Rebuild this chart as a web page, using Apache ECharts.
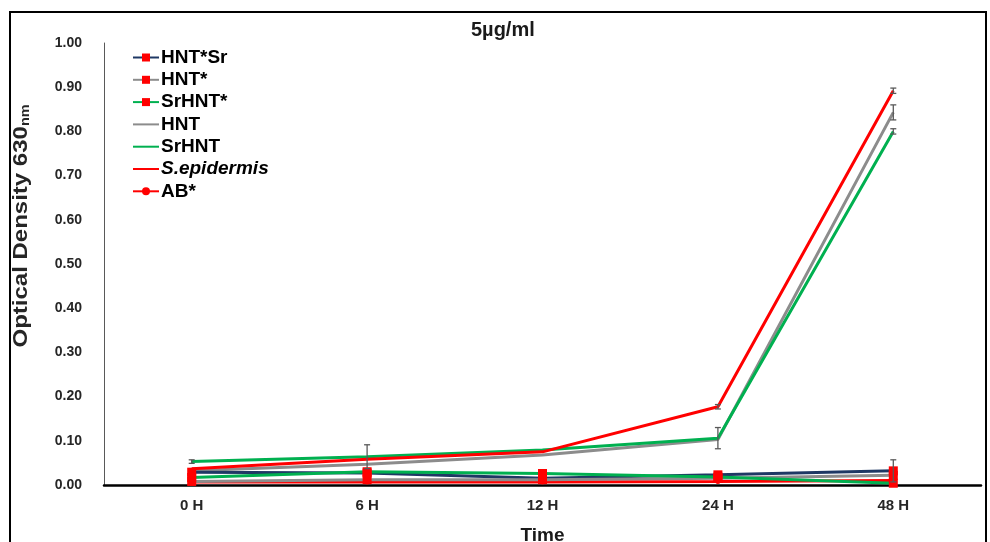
<!DOCTYPE html>
<html>
<head>
<meta charset="utf-8">
<script src="https://cdn.jsdelivr.net/npm/echarts@6/dist/echarts.min.js"></script>
<style>
  html, body { margin: 0; padding: 0; background: #fff; }
  #chart { width: 990px; height: 542px; }
</style>
</head>
<body>
<div id="chart"></div>
<script>
// Time points
const categories = ['0 H', '6 H', '12 H', '24 H', '48 H'];

// Optical density readings per treatment
const hntSr      = [0.029, 0.027, 0.015, 0.023, 0.032];
const hntStar    = [0.008, 0.012, 0.012, 0.015, 0.022];
const srHntStar  = [0.017, 0.030, 0.026, 0.018, 0.004];
const hnt        = [0.032, 0.047, 0.068, 0.103, 0.843];
const srHnt      = [0.053, 0.064, 0.079, 0.106, 0.800];
const sEpidermis = [0.037, 0.058, 0.075, 0.177, 0.892];
const abStar     = [0.007, 0.007, 0.007, 0.008, 0.010];

// Standard deviations (null = no error bar shown)
const hntSrErr      = [null, null, null, null, 0.025];
const hntErr        = [null, null, null, null, 0.017];
const srHntErr      = [0.004, 0.027, null, 0.024, 0.006];
const sEpidermisErr = [null, null, null, 0.005, 0.006];

// y-axis ticks
const yMin = 0, yMax = 1, yStep = 0.1;

const FONT = 'Liberation Sans, Arial, sans-serif';
const NAVY = '#1F3864', GRAY = '#8C8C8C', GREEN = '#00B050', RED = '#FF0000';

function errorPoints(values, errs) {
  const out = [];
  values.forEach((v, i) => {
    if (errs[i] != null) out.push([i, v - errs[i], v + errs[i]]);
  });
  return out;
}
const errorData = []
  .concat(errorPoints(hntSr, hntSrErr))
  .concat(errorPoints(hnt, hntErr))
  .concat(errorPoints(srHnt, srHntErr))
  .concat(errorPoints(sEpidermis, sEpidermisErr));

function lineSeries(name, data, lineColor, symbol, symbolColor, symbolSize, z) {
  return {
    name: name,
    type: 'line',
    data: data,
    z: z,
    symbol: symbol,
    symbolSize: symbolSize,
    showSymbol: symbol !== 'none',
    lineStyle: { color: lineColor, width: 3 },
    itemStyle: { color: symbolColor },
    emphasis: { disabled: true },
    animation: false
  };
}

const chart = echarts.init(document.getElementById('chart'), null, { renderer: 'canvas' });

const option = {
  backgroundColor: '#ffffff',
  animation: false,
  title: {
    text: '5µg/ml',
    left: 466,
    top: 15,
    textStyle: { fontFamily: FONT, fontWeight: 'bold', fontSize: 20, color: '#1a1a1a' }
  },
  grid: { left: 104, right: 9, top: 43, bottom: 57, containLabel: false, outerBoundsMode: 'none' },
  legend: {
    orient: 'vertical',
    left: 127,
    top: 43,
    itemWidth: 26,
    itemHeight: 10,
    itemGap: 3.3,
    selectedMode: false,
    data: [
      { name: 'HNT*Sr' },
      { name: 'HNT*' },
      { name: 'SrHNT*' },
      { name: 'HNT', itemStyle: { opacity: 0 } },
      { name: 'SrHNT', itemStyle: { opacity: 0 } },
      { name: 'S.epidermis', itemStyle: { opacity: 0 } },
      { name: 'AB*' }
    ],
    formatter: function (name) {
      return name === 'S.epidermis' ? '{i|' + name + '}' : name;
    },
    textStyle: {
      fontFamily: FONT,
      fontWeight: 'bold',
      fontSize: 19,
      lineHeight: 19,
      color: '#000',
      padding: [0, 0, 0, -3],
      rich: {
        i: { fontFamily: FONT, fontWeight: 'bold', fontStyle: 'italic', fontSize: 19, color: '#000' }
      }
    }
  },
  xAxis: {
    type: 'category',
    data: categories,
    boundaryGap: true,
    name: 'Time',
    nameLocation: 'middle',
    nameGap: 41,
    nameTextStyle: { fontFamily: FONT, fontWeight: 'bold', fontSize: 19, color: '#1a1a1a' },
    axisLine: { lineStyle: { color: '#000', width: 2.5 } },
    axisTick: { show: false },
    axisLabel: { margin: 13, fontFamily: FONT, fontWeight: 'bold', fontSize: 15, color: '#262626' },
    splitLine: { show: false }
  },
  yAxis: {
    type: 'value',
    min: yMin,
    max: yMax,
    interval: yStep,
    axisLine: { show: true, lineStyle: { color: '#595959', width: 1 } },
    axisTick: { show: false },
    axisLabel: {
      margin: 22,
      fontFamily: FONT,
      fontWeight: 'bold',
      fontSize: 14,
      color: '#262626',
      formatter: function (v) { return v.toFixed(2); }
    },
    splitLine: { show: false }
  },
  graphic: [
    {
      // y-axis title with subscript unit
      type: 'text',
      x: 21,
      y: 226,
      rotation: Math.PI / 2,
      scaleX: 1.2,
      silent: true,
      style: {
        text: 'Optical Density 630{sub|nm}',
        fontFamily: FONT,
        fontWeight: 'bold',
        fontSize: 20,
        fill: '#262626',
        textAlign: 'center',
        textVerticalAlign: 'middle',
        rich: {
          sub: { fontFamily: FONT, fontWeight: 'bold', fontSize: 12, fill: '#262626', verticalAlign: 'bottom', lineHeight: 22 }
        }
      }
    },
    {
      type: 'rect',
      shape: { x: 10, y: 12, width: 976, height: 560 },
      style: { fill: 'none', stroke: '#000', lineWidth: 2 },
      silent: true,
      z: 100
    }
  ],
  series: [
    lineSeries('HNT*Sr', hntSr, NAVY, 'rect', RED, 9, 3),
    lineSeries('HNT*', hntStar, GRAY, 'rect', RED, 9, 3),
    lineSeries('SrHNT*', srHntStar, GREEN, 'rect', RED, 9, 3),
    lineSeries('HNT', hnt, GRAY, 'none', GRAY, 0, 2),
    lineSeries('SrHNT', srHnt, GREEN, 'none', GREEN, 0, 2),
    lineSeries('S.epidermis', sEpidermis, RED, 'none', RED, 0, 2),
    lineSeries('AB*', abStar, RED, 'circle', RED, 5, 2),
    {
      name: 'error',
      type: 'custom',
      z: 4,
      silent: true,
      data: errorData,
      renderItem: function (params, api) {
        const lo = api.coord([api.value(0), api.value(1)]);
        const hi = api.coord([api.value(0), api.value(2)]);
        const w = 3;
        const st = { stroke: '#595959', lineWidth: 1.3 };
        return {
          type: 'group',
          children: [
            { type: 'line', shape: { x1: lo[0], y1: lo[1], x2: hi[0], y2: hi[1] }, style: st },
            { type: 'line', shape: { x1: hi[0] - w, y1: hi[1], x2: hi[0] + w, y2: hi[1] }, style: st },
            { type: 'line', shape: { x1: lo[0] - w, y1: lo[1], x2: lo[0] + w, y2: lo[1] }, style: st }
          ]
        };
      },
      encode: { x: 0, y: [1, 2] }
    }
  ]
};

chart.setOption(option);
</script>
</body>
</html>
